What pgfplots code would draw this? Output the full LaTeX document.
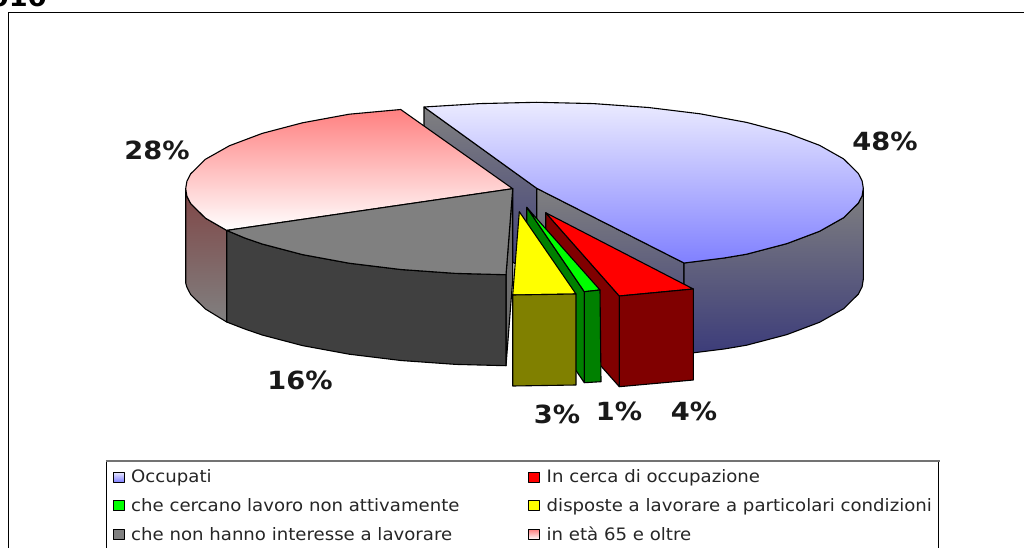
\documentclass[border=0pt]{standalone}
\usepackage{pgfplots}
\usepackage{fontspec}
\pgfplotsset{compat=1.18}
\setmainfont{DejaVu Sans}
\newfontfamily\lblfont[FakeStretch=1.09]{DejaVu Sans Bold}
\newfontfamily\legfont[FakeStretch=1.06]{DejaVu Sans}
\definecolor{bluetop}{RGB}{235,235,255}
\definecolor{bluebot}{RGB}{128,128,255}
\definecolor{walltop}{RGB}{128,128,128}
\definecolor{wallbot}{RGB}{60,60,122}
\definecolor{pinktop}{RGB}{255,128,128}
\definecolor{pwalltop}{RGB}{128,70,70}
\definecolor{gA}{RGB}{128,128,128}
\definecolor{gB}{RGB}{64,64,64}
\definecolor{redT}{RGB}{255,0,0}
\definecolor{redD}{RGB}{128,0,0}
\definecolor{grnT}{RGB}{0,255,0}
\definecolor{grnD}{RGB}{0,128,0}
\definecolor{yelT}{RGB}{255,255,0}
\definecolor{yelD}{RGB}{128,128,0}
\begin{document}
\begin{tikzpicture}
\path[use as bounding box,clip] (0,0) rectangle (1024pt,548pt);
\begin{axis}[at={(0,0)},anchor=south west,scale only axis,width=1024pt,height=548pt,
  xmin=0,xmax=1024,ymin=0,ymax=548,y dir=reverse,hide axis,
  every axis plot/.append style={draw=black,line width=1.1pt,line join=round}]
% frame
\addplot[draw=black,line width=1pt] coordinates {(8,548) (8,12.5) (1024,12.5)};
% Occupati 48%: cut walls
\addplot[top color=walltop,bottom color=wallbot] coordinates {(424,107) (536.7,188.3) (536.7,279.3) (424,198)} --cycle;
\addplot[top color=walltop,bottom color=wallbot] coordinates {(536.7,188.3) (684,263) (684,354) (536.7,279.3)} --cycle;
% outer wall
\addplot[top color=walltop,bottom color=wallbot] coordinates {(684,263) (724,258) (746.6,254.2) (786.9,243.6) (819.5,231.3) (843.6,217.7) (858.3,203.2) (862.1,195.8) (863.3,188.3) (863.3,279.3) (862.1,286.8) (858.3,294.2) (843.6,308.7) (819.5,322.3) (786.9,334.6) (746.6,345.2) (724,349) (684,354)} --cycle;
% top
\addplot[top color=bluetop,bottom color=bluebot] coordinates {(424,107) (536.7,188.3) (684,263) (724,258) (746.6,254.2) (786.9,243.6) (819.5,231.3) (843.6,217.7) (858.3,203.2) (862.1,195.8) (863.3,188.3) (862.1,180.8) (858.3,173.4) (843.6,158.9) (819.5,145.3) (786.9,133) (746.6,122.4) (700,113.8) (648.4,107.5) (593.4,103.6) (536.7,102.3) (480,103.6)} --cycle;
% Pink wall
\addplot[top color=pwalltop,bottom color=gA] coordinates {(185.7,188.7) (186.9,196.2) (190.7,203.6) (205.4,218.1) (226.7,230.4) (226.7,322) (205.4,309) (190.7,294.6) (186.9,287.2) (185.7,283)} --cycle;
% Grey sliver and wall
\addplot[fill=gray!85!black] coordinates {(512.7,188.7) (506,274.7) (506,365.7) (512.7,279.7)} --cycle;
\addplot[fill=gB] coordinates {(226.7,230.4) (244.8,238) (262.2,244) (302.5,254.6) (349.2,263.2) (400.9,269.5) (455.9,273.4) (506,274.7) (506,365.7) (455.9,364.4) (400.9,360.5) (349.2,354.2) (302.5,345.6) (262.2,335) (244.8,329) (226.7,322)} --cycle;
% Pink top
\addplot[top color=pinktop,bottom color=white] coordinates {(512.7,188.7) (400.7,109.5) (349.2,114.2) (302.5,122.8) (262.2,133.4) (229.5,145.7) (205.4,159.3) (190.7,173.8) (186.9,181.2) (185.7,188.7) (186.9,196.2) (190.7,203.6) (205.4,218.1) (226.7,230.4)} --cycle;
% Grey top
\addplot[fill=gA] coordinates {(512.7,188.7) (226.7,230.4) (244.8,238) (262.2,244) (302.5,254.6) (349.2,263.2) (400.9,269.5) (455.9,273.4) (506,274.7)} --cycle;
% Red
\addplot[fill=redD] coordinates {(545.7,212.7) (619.3,296) (619.3,386.7) (545.7,303.7)} --cycle;
\addplot[fill=redT] coordinates {(545.7,212.7) (619.3,296) (693.3,289)} --cycle;
\addplot[fill=redD] coordinates {(619.3,296) (693.3,289) (693.3,380) (619.3,386.7)} --cycle;
% Green
\addplot[fill=grnD] coordinates {(526.7,207.3) (584.3,291.7) (584.3,382.7) (526.7,298)} --cycle;
\addplot[fill=grnT] coordinates {(526.7,207.3) (584.3,291.7) (600,290)} --cycle;
\addplot[fill=grnD] coordinates {(584.3,291.7) (600,290) (601,381.7) (584.3,382.7)} --cycle;
% Yellow
\addplot[fill=yelT] coordinates {(519.3,211.7) (512.7,295) (576,294)} --cycle;
\addplot[fill=yelD] coordinates {(512.7,295) (576,294) (576,385) (512.7,386)} --cycle;
% legend box
\addplot[fill=white,draw=none] coordinates {(106.5,461) (938.5,461) (938.5,548) (106.5,548)} --cycle;
\addplot[draw=black,line width=0.9pt] coordinates {(106.5,548) (106.5,461)};
\addplot[draw=black,line width=0.9pt] coordinates {(938.5,548) (938.5,461)};
\addplot[draw=black!55,line width=1.8pt] coordinates {(105.5,460.7) (939.5,460.7)};
% swatches
\addplot[top color=bluetop,bottom color=bluebot,line width=0.9pt] coordinates {(113,472) (124,472) (124,482) (113,482)} --cycle;
\addplot[fill=grnT,line width=0.9pt] coordinates {(113,500.5) (124,500.5) (124,510.5) (113,510.5)} --cycle;
\addplot[fill=gA,line width=0.9pt] coordinates {(113,529.5) (124,529.5) (124,539.5) (113,539.5)} --cycle;
\addplot[fill=redT,line width=0.9pt] coordinates {(528.5,472) (539.5,472) (539.5,482) (528.5,482)} --cycle;
\addplot[fill=yelT,line width=0.9pt] coordinates {(528.5,500.5) (539.5,500.5) (539.5,510.5) (528.5,510.5)} --cycle;
\addplot[top color=pinktop,bottom color=white,line width=0.9pt] coordinates {(528.5,529.5) (539.5,529.5) (539.5,539.5) (528.5,539.5)} --cycle;
% texts
\tikzset{lg/.style={anchor=base west,inner sep=0pt,font=\legfont\fontsize{17.1}{19}\selectfont,text=black!85},
  pc/.style={anchor=base,inner sep=0pt,font=\lblfont\fontsize{25}{28}\selectfont,text=black!90}}
\node[lg] at (axis cs:131,482.5) {Occupati};
\node[lg] at (axis cs:131,511.5) {che cercano lavoro non attivamente};
\node[lg] at (axis cs:131,540.5) {che non hanno interesse a lavorare};
\node[lg] at (axis cs:546.5,482.5) {In cerca di occupazione};
\node[lg] at (axis cs:546.5,511.5) {disposte a lavorare a particolari condizioni};
\node[lg] at (axis cs:546.5,540.5) {in età 65 e oltre};
\node[pc] at (axis cs:885,150) {48\%};
\node[pc] at (axis cs:157,160) {28\%};
\node[pc] at (axis cs:300,389) {16\%};
\node[pc] at (axis cs:557,423) {3\%};
\node[pc] at (axis cs:619,420) {1\%};
\node[pc] at (axis cs:694,420) {4\%};
\node[anchor=base east,inner sep=0pt,font=\lblfont\fontsize{25}{28}\selectfont] at (axis cs:47,6.5) {2010};
\end{axis}
\end{tikzpicture}
\end{document}
